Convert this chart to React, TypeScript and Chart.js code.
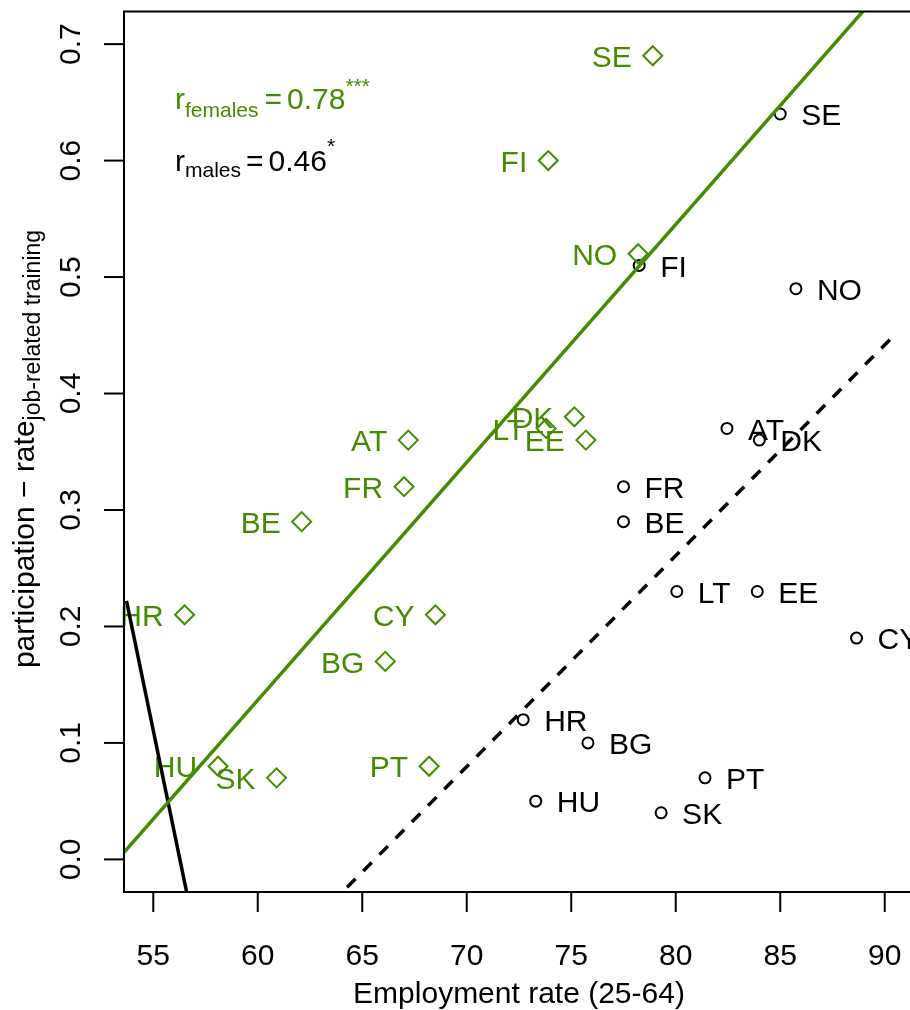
import React, { useEffect, useRef } from "react";
import { Chart, registerables } from "chart.js";

Chart.register(...registerables);

const GREEN = "#458B00";
const FONT = "'Liberation Sans', Arial, Helvetica, sans-serif";

// Females (green diamonds)
const femaleCountries = ["SE", "FI", "NO", "DK", "LT", "EE", "AT", "FR", "BE", "HR", "CY", "BG", "HU", "SK", "PT"];
const femaleX = [78.9, 73.9, 78.2, 75.15, 73.8, 75.7, 67.2, 67.0, 62.1, 56.5, 68.5, 66.1, 58.1, 60.9, 68.2];
const femaleY = [0.69, 0.60, 0.52, 0.38, 0.37, 0.36, 0.36, 0.32, 0.29, 0.21, 0.21, 0.17, 0.08, 0.07, 0.08];

// Males (black circles)
const maleCountries = ["SE", "FI", "NO", "AT", "DK", "FR", "BE", "LT", "EE", "CY", "HR", "BG", "PT", "HU", "SK"];
const maleX = [85.0, 78.25, 85.75, 82.45, 84.0, 77.5, 77.5, 80.05, 83.9, 88.65, 72.7, 75.8, 81.4, 73.3, 79.3];
const maleY = [0.64, 0.51, 0.49, 0.37, 0.36, 0.32, 0.29, 0.23, 0.23, 0.19, 0.12, 0.10, 0.07, 0.05, 0.04];

// Fitted lines (end points)
const femaleFitX = [53.6, 91.4];
const femaleFitY = [0.006, 0.778];
const maleFitX = [63.5, 90.4];
const maleFitY = [-0.038, 0.449];
const steepFitX = [53.72, 56.7];
const steepFitY = [0.222, -0.037];

// Axes
const xMin = 53.6;
const xMax = 91.4;
const yMin = -0.028;
const yMax = 0.728;
const xTicks = [55, 60, 65, 70, 75, 80, 85, 90];
const xTickLabels = ["55", "60", "65", "70", "75", "80", "85", "90"];
const yTicks = [0, 0.1, 0.2, 0.3, 0.4, 0.5, 0.6, 0.7];
const yTickLabels = ["0.0", "0.1", "0.2", "0.3", "0.4", "0.5", "0.6", "0.7"];

const xTitle = "Employment rate (25-64)";
const yTitleMain = "participation \u2212 rate";
const yTitleSub = "job-related training";

const toPts = (xs: number[], ys: number[]) => xs.map((x, i) => ({ x, y: ys[i] }));

type Part = { t: string; size: number; dy: number; gap?: number };

function drawParts(ctx: CanvasRenderingContext2D, x: number, y: number, parts: Part[], color: string) {
  ctx.fillStyle = color;
  ctx.textAlign = "left";
  ctx.textBaseline = "alphabetic";
  let cx = x;
  for (const p of parts) {
    cx += p.gap || 0;
    ctx.font = `${p.size}px ${FONT}`;
    ctx.fillText(p.t, cx, y + p.dy);
    cx += ctx.measureText(p.t).width;
  }
}

const rPlugin = {
  id: "rstyle",
  beforeDatasetsDraw(chart: any) {
    const ctx: CanvasRenderingContext2D = chart.ctx;
    const xs = chart.scales.x;
    const ys = chart.scales.y;
    ctx.save();
    ctx.font = `30px ${FONT}`;
    ctx.textBaseline = "middle";
    ctx.fillStyle = GREEN;
    ctx.textAlign = "right";
    femaleCountries.forEach((c, i) => {
      ctx.fillText(c, xs.getPixelForValue(femaleX[i]) - 21, ys.getPixelForValue(femaleY[i]) + 3);
    });
    ctx.fillStyle = "#000";
    ctx.textAlign = "left";
    maleCountries.forEach((c, i) => {
      ctx.fillText(c, xs.getPixelForValue(maleX[i]) + 21, ys.getPixelForValue(maleY[i]) + 3);
    });
    ctx.restore();
  },
  afterDraw(chart: any) {
    const ctx: CanvasRenderingContext2D = chart.ctx;
    const a = chart.chartArea;
    const xs = chart.scales.x;
    const ys = chart.scales.y;
    ctx.save();
    ctx.strokeStyle = "#000";
    ctx.lineWidth = 2;
    ctx.strokeRect(a.left, a.top, a.right - a.left, a.bottom - a.top);

    // x ticks
    ctx.fillStyle = "#000";
    ctx.font = `30px ${FONT}`;
    ctx.textAlign = "center";
    ctx.textBaseline = "alphabetic";
    xTicks.forEach((v, i) => {
      const px = xs.getPixelForValue(v);
      ctx.beginPath();
      ctx.moveTo(px, a.bottom);
      ctx.lineTo(px, a.bottom + 20);
      ctx.stroke();
      ctx.fillText(xTickLabels[i], px, 965);
    });
    ctx.fillText(xTitle, 519, 1003);

    // y ticks
    yTicks.forEach((v, i) => {
      const py = ys.getPixelForValue(v);
      ctx.beginPath();
      ctx.moveTo(a.left, py);
      ctx.lineTo(a.left - 20, py);
      ctx.stroke();
      ctx.save();
      ctx.translate(80, py);
      ctx.rotate(-Math.PI / 2);
      ctx.fillText(yTickLabels[i], 0, 0);
      ctx.restore();
    });

    // y title
    ctx.save();
    ctx.translate(34, 449);
    ctx.rotate(-Math.PI / 2);
    ctx.font = `30px ${FONT}`;
    const wMain = ctx.measureText(yTitleMain).width;
    ctx.font = `23px ${FONT}`;
    const wSub = ctx.measureText(yTitleSub).width;
    const start = -(wMain + wSub) / 2;
    ctx.textAlign = "left";
    ctx.font = `30px ${FONT}`;
    ctx.fillText(yTitleMain, start, 0);
    ctx.font = `23px ${FONT}`;
    ctx.fillText(yTitleSub, start + wMain, 6);
    ctx.restore();

    // correlation annotations
    drawParts(
      ctx,
      175,
      109,
      [
        { t: "r", size: 30, dy: 0 },
        { t: "females", size: 21, dy: 8 },
        { t: "=", size: 30, dy: 0, gap: 6 },
        { t: "0.78", size: 30, dy: 0, gap: 5 },
        { t: "***", size: 21, dy: -16 },
      ],
      GREEN
    );
    drawParts(
      ctx,
      175,
      171,
      [
        { t: "r", size: 30, dy: 0 },
        { t: "males", size: 21, dy: 6 },
        { t: "=", size: 30, dy: 0, gap: 5 },
        { t: "0.46", size: 30, dy: 0, gap: 5 },
        { t: "*", size: 21, dy: -18 },
      ],
      "#000"
    );
    ctx.restore();
  },
};

export default function App() {
  const ref = useRef<HTMLCanvasElement>(null);
  useEffect(() => {
    if (!ref.current) return;
    const chart = new Chart(ref.current, {
      type: "scatter",
      data: {
        datasets: [
          {
            label: "female fit",
            data: toPts(femaleFitX, femaleFitY),
            showLine: true,
            borderColor: GREEN,
            borderWidth: 3.5,
            pointRadius: 0,
            order: 0,
          } as any,
          {
            label: "male fit",
            data: toPts(maleFitX, maleFitY),
            showLine: true,
            borderColor: "#000",
            borderWidth: 3.5,
            borderDash: [12, 11],
            pointRadius: 0,
            order: 0,
          },
          {
            label: "steep fit",
            data: toPts(steepFitX, steepFitY),
            showLine: true,
            borderColor: "#000",
            borderWidth: 3.5,
            pointRadius: 0,
            order: 0,
          },
          {
            label: "females",
            data: toPts(femaleX, femaleY),
            pointStyle: "rectRot",
            pointRadius: 9.5,
            borderColor: GREEN,
            backgroundColor: "rgba(0,0,0,0)",
            borderWidth: 2,
            order: 1,
          },
          {
            label: "males",
            data: toPts(maleX, maleY),
            pointStyle: "circle",
            pointRadius: 5.5,
            borderColor: "#000",
            backgroundColor: "rgba(0,0,0,0)",
            borderWidth: 2,
            order: 1,
          },
        ],
      },
      options: {
        responsive: false,
        animation: false,
        devicePixelRatio: 1,
        layout: { padding: { left: 124, right: 16, top: 8, bottom: 118 } },
        scales: {
          x: { type: "linear", min: xMin, max: xMax, display: false },
          y: { type: "linear", min: yMin, max: yMax, display: false },
        },
        plugins: { legend: { display: false }, tooltip: { enabled: false } },
        events: [],
      },
      plugins: [rPlugin],
    });
    return () => chart.destroy();
  }, []);
  return (
    <div style={{ position: "absolute", left: 0, top: 0, width: 910, height: 1010, overflow: "hidden", background: "#fff" }}>
      <canvas ref={ref} width={930} height={1010} style={{ display: "block", width: 930, height: 1010 }} />
    </div>
  );
}
